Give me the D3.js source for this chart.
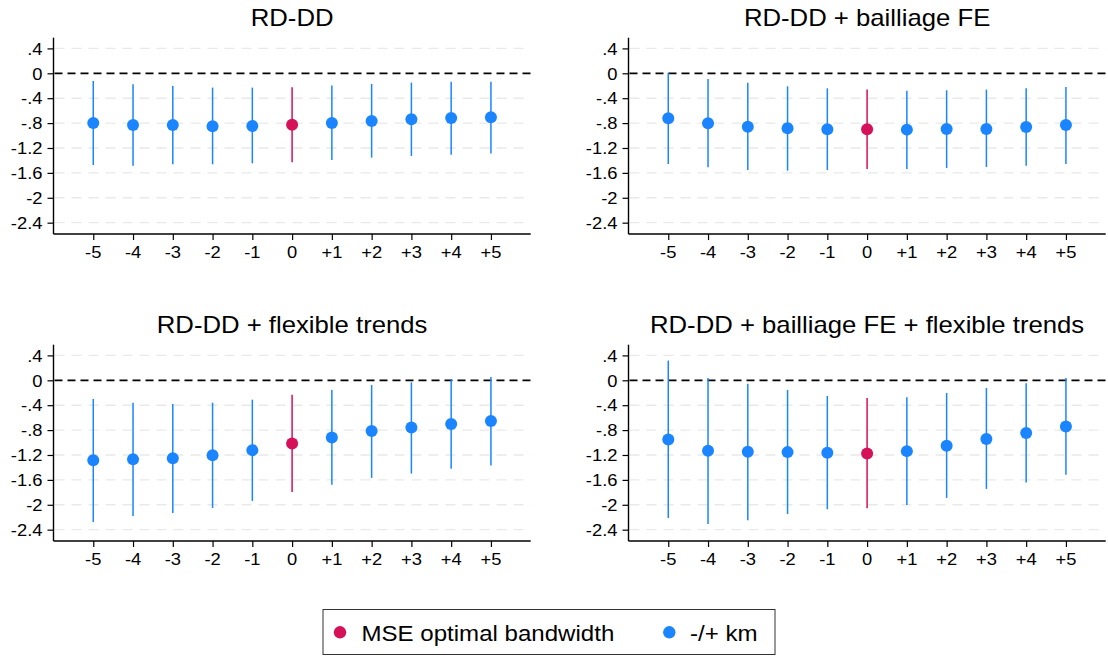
<!DOCTYPE html>
<html><head><meta charset="utf-8">
<script src="https://cdn.jsdelivr.net/npm/d3@7"></script>
<style>
html,body{margin:0;padding:0;background:#fff;}
svg{display:block;font-family:"Liberation Sans",Arial,sans-serif;}
</style></head>
<body><svg id="c" width="1108" height="657"></svg>
<script>
const categories = [-5,-4,-3,-2,-1,0,1,2,3,4,5];
const xTickLabels = ["-5","-4","-3","-2","-1","0","+1","+2","+3","+4","+5"];
const yTicks = [0.4,0,-0.4,-0.8,-1.2,-1.6,-2,-2.4];
const yTickLabels = [".4","0","-.4","-.8","-1.2","-1.6","-2","-2.4"];
const titles = ["RD-DD","RD-DD + bailliage FE","RD-DD + flexible trends","RD-DD + bailliage FE + flexible trends"];
const legendLabels = ["MSE optimal bandwidth","-/+ km"];
const optimalCategory = 0;

const est1 = [-0.798,-0.83,-0.83,-0.852,-0.846,-0.825,-0.798,-0.766,-0.739,-0.718,-0.707];
const lo1  = [-1.473,-1.484,-1.462,-1.462,-1.446,-1.43,-1.393,-1.355,-1.328,-1.307,-1.29];
const hi1  = [-0.123,-0.177,-0.204,-0.23,-0.23,-0.225,-0.198,-0.171,-0.15,-0.134,-0.134];

const est2 = [-0.723,-0.804,-0.857,-0.884,-0.9,-0.9,-0.905,-0.895,-0.895,-0.862,-0.83];
const lo2  = [-1.457,-1.511,-1.554,-1.564,-1.554,-1.537,-1.537,-1.521,-1.505,-1.484,-1.457];
const hi2  = [0.01,-0.091,-0.15,-0.209,-0.241,-0.262,-0.279,-0.273,-0.262,-0.241,-0.22];

const est3 = [-1.283,-1.267,-1.251,-1.203,-1.122,-1.015,-0.918,-0.816,-0.757,-0.703,-0.655];
const lo3  = [-2.277,-2.18,-2.131,-2.051,-1.938,-1.793,-1.68,-1.568,-1.498,-1.423,-1.369];
const hi3  = [-0.30,-0.36,-0.381,-0.36,-0.311,-0.231,-0.156,-0.075,-0.032,0.021,0.054];

const est4 = [-0.95,-1.133,-1.149,-1.154,-1.165,-1.176,-1.138,-1.052,-0.945,-0.848,-0.741];
const lo4  = [-2.212,-2.309,-2.25,-2.148,-2.072,-2.056,-2.003,-1.89,-1.745,-1.643,-1.519];
const hi4  = [0.317,0.038,-0.054,-0.156,-0.252,-0.285,-0.274,-0.204,-0.123,-0.048,0.038];

const panelsData = [[est1,lo1,hi1],[est2,lo2,hi2],[est3,lo3,hi3],[est4,lo4,hi4]];

const RED = "#d41159", BLUE = "#1a85ff";
const SX = 1.08; // horizontal stretch of text in reference
const svg = d3.select("#c");

function stext(g, x, y, str, size, anchor){
  return g.append("text")
    .attr("transform", `translate(${x},${y}) scale(${SX},1)`)
    .attr("text-anchor", anchor).attr("font-size", size).attr("fill","#000").text(str);
}

const layout = [
  {x0:53.5, x1:530.7, yOff:0},
  {x0:628.5, x1:1105.7, yOff:0},
  {x0:53.5, x1:530.7, yOff:307},
  {x0:628.5, x1:1105.7, yOff:307}
];

layout.forEach((L, p) => {
  const g = svg.append("g");
  const x = d3.scaleLinear().domain([-6,6]).range([L.x0, L.x1]);
  const y = d3.scaleLinear().domain([-2.582,0.572]).range([234+L.yOff, 37.7+L.yOff]);
  const [est, lo, hi] = panelsData[p];

  // gridlines
  g.selectAll(".grid").data(yTicks.filter(t=>t!==0)).enter().append("line")
    .attr("x1", L.x0+1).attr("x2", L.x1).attr("y1", d=>y(d)).attr("y2", d=>y(d))
    .attr("stroke","#e9e9e9").attr("stroke-width",1.4).attr("stroke-dasharray","10,7");
  // zero line
  g.append("line").attr("x1", L.x0+1).attr("x2", L.x1).attr("y1", y(0)).attr("y2", y(0))
    .attr("stroke","#000").attr("stroke-width",1.8).attr("stroke-dasharray","8,5");

  // axes
  const yAxis = d3.axisLeft(y).tickValues(yTicks).tickSize(6).tickFormat("");
  const ya = g.append("g").attr("transform",`translate(${L.x0},0)`).call(yAxis);
  ya.select(".domain").attr("d", `M0,${y.range()[1]}V${y.range()[0]}`).attr("stroke","#000").attr("stroke-width",1.4);
  ya.selectAll(".tick line").attr("stroke","#000").attr("stroke-width",1.2);
  yTicks.forEach((t,i)=> stext(g, L.x0-11, y(t)+6.3, yTickLabels[i], 17, "end"));

  const xAxis = d3.axisBottom(x).tickValues(categories).tickSize(6).tickFormat("");
  const xa = g.append("g").attr("transform",`translate(0,${y.range()[0]})`).call(xAxis);
  xa.select(".domain").attr("d", `M${L.x0},0H${L.x1}`).attr("stroke","#000").attr("stroke-width",1.4);
  xa.selectAll(".tick line").attr("stroke","#000").attr("stroke-width",1.2);
  categories.forEach((c,i)=> stext(g, x(c), y.range()[0]+24.3, xTickLabels[i], 17, "middle"));

  // CI lines
  g.selectAll(".ci").data(categories).enter().append("line")
    .attr("x1", d=>x(d)).attr("x2", d=>x(d))
    .attr("y1", (d,i)=>y(hi[i])).attr("y2", (d,i)=>y(lo[i]))
    .attr("stroke", d=>d===optimalCategory?RED:BLUE).attr("stroke-width",1.5);
  // points
  g.selectAll(".pt").data(categories).enter().append("circle")
    .attr("cx", d=>x(d)).attr("cy", (d,i)=>y(est[i])).attr("r",6)
    .attr("fill", d=>d===optimalCategory?RED:BLUE);

  // title
  stext(g, (L.x0+L.x1)/2, 26+L.yOff, titles[p], 23.8, "middle");
});

// legend
const lg = svg.append("g");
lg.append("rect").attr("x",323).attr("y",609.5).attr("width",452).attr("height",45)
  .attr("fill","#fff").attr("stroke","#333").attr("stroke-width",1);
lg.append("circle").attr("cx",340).attr("cy",632.3).attr("r",6.2).attr("fill",RED);
stext(lg, 361.5, 640.5, legendLabels[0], 22.3, "start");
lg.append("circle").attr("cx",669.3).attr("cy",632.3).attr("r",6.2).attr("fill",BLUE);
stext(lg, 690, 640.5, legendLabels[1], 22.3, "start");
</script></body></html>
